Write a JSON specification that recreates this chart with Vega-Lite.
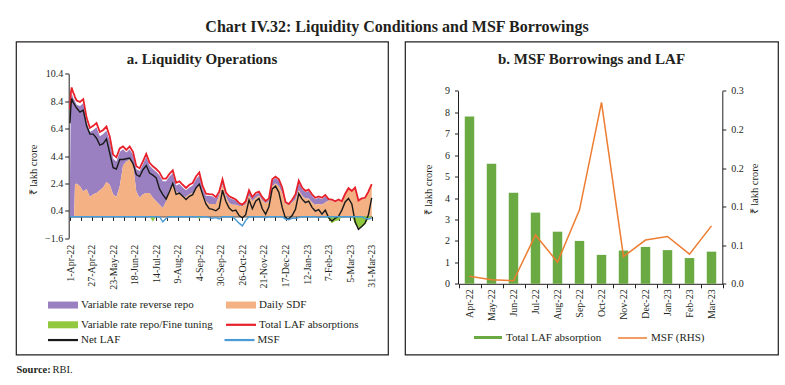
{
  "$schema": "https://vega.github.io/schema/vega-lite/v6.json",
  "background": "white",
  "padding": {"left": 15, "top": 18.5, "right": 5, "bottom": 0},
  "title": {"text": "Chart IV.32: Liquidity Conditions and MSF Borrowings", "fontSize": 16, "fontWeight": "bold", "anchor": "middle", "offset": 5.5, "color": "#231f20", "font": "Liberation Serif"},
  "config": {
    "font": "Liberation Serif",
    "axis": {"labelFont": "Liberation Serif", "titleFont": "Liberation Serif", "labelColor": "#231f20", "titleColor": "#231f20", "domainColor": "#231f20", "tickColor": "#231f20", "grid": false, "labelFontSize": 10, "titleFontSize": 10.5, "titleFontWeight": "normal"},
    "legend": {"labelFont": "Liberation Serif", "labelFontSize": 11, "labelColor": "#231f20", "padding": 0},
    "title": {"font": "Liberation Serif", "color": "#231f20"}
  },
  "spacing": 9,
  "vconcat": [
    {
      "spacing": 10,
      "resolve": {
        "scale": {"fill": "independent", "stroke": "independent", "color": "independent"},
        "legend": {"fill": "independent", "stroke": "independent", "color": "independent"}
      },
      "hconcat": [
        {
          "width": 372,
          "height": 313,
          "view": {"stroke": "#231f20", "strokeWidth": 1.2, "fill": "white"},
          "title": {"text": "a. Liquidity Operations", "fontSize": 15, "fontWeight": "bold", "offset": -25, "anchor": "middle", "frame": "group"},
          "data": {"values": [
            {"date":"2022-04-01","tot":7.8,"net":6.8,"sdf":0,"vrrr":2.9,"repo":0,"msf":-0.03},
            {"date":"2022-04-02","tot":9.0,"net":8.0,"sdf":0,"vrrr":8.4,"repo":0,"msf":-0.03},
            {"date":"2022-04-03","tot":9.4,"net":8.6,"sdf":0,"vrrr":9.0,"repo":0,"msf":-0.03},
            {"date":"2022-04-05","tot":9.0,"net":8.3,"sdf":0,"vrrr":8.6,"repo":0,"msf":-0.03},
            {"date":"2022-04-06","tot":8.9,"net":8.2,"sdf":0,"vrrr":8.55,"repo":0,"msf":-0.03},
            {"date":"2022-04-07","tot":8.7,"net":8.1,"sdf":2.3,"vrrr":6.1,"repo":0,"msf":-0.03},
            {"date":"2022-04-09","tot":8.45,"net":7.9,"sdf":2.4,"vrrr":5.75,"repo":0,"msf":-0.03},
            {"date":"2022-04-13","tot":8.35,"net":7.6,"sdf":2.2,"vrrr":5.85,"repo":0,"msf":-0.03},
            {"date":"2022-04-17","tot":8.55,"net":7.75,"sdf":1.8,"vrrr":6.45,"repo":0,"msf":-0.03},
            {"date":"2022-04-21","tot":7.2,"net":6.6,"sdf":2.0,"vrrr":4.9,"repo":0,"msf":-0.03},
            {"date":"2022-04-25","tot":6.45,"net":6.0,"sdf":1.4,"vrrr":4.75,"repo":0,"msf":-0.03},
            {"date":"2022-04-29","tot":6.6,"net":6.0,"sdf":1.6,"vrrr":4.7,"repo":0,"msf":-0.03},
            {"date":"2022-05-03","tot":6.8,"net":5.7,"sdf":1.7,"vrrr":4.8,"repo":0,"msf":-0.03},
            {"date":"2022-05-07","tot":6.15,"net":5.2,"sdf":1.9,"vrrr":3.95,"repo":0,"msf":-0.03},
            {"date":"2022-05-11","tot":6.3,"net":5.3,"sdf":2.1,"vrrr":3.9,"repo":0,"msf":-0.03},
            {"date":"2022-05-15","tot":6.55,"net":5.65,"sdf":2.5,"vrrr":3.75,"repo":0,"msf":-0.03},
            {"date":"2022-05-19","tot":5.8,"net":4.6,"sdf":2.3,"vrrr":3.2,"repo":0,"msf":-0.03},
            {"date":"2022-05-23","tot":4.5,"net":3.55,"sdf":1.6,"vrrr":2.6,"repo":0,"msf":-0.03},
            {"date":"2022-05-27","tot":4.3,"net":3.45,"sdf":1.4,"vrrr":2.6,"repo":0,"msf":-0.03},
            {"date":"2022-05-31","tot":4.95,"net":4.15,"sdf":2.2,"vrrr":2.5,"repo":0,"msf":-0.03},
            {"date":"2022-06-04","tot":5.1,"net":4.15,"sdf":3.7,"vrrr":1.2,"repo":0,"msf":-0.03},
            {"date":"2022-06-08","tot":4.85,"net":4.2,"sdf":4.0,"vrrr":0.65,"repo":0,"msf":-0.03},
            {"date":"2022-06-12","tot":5.1,"net":4.25,"sdf":4.15,"vrrr":0.75,"repo":0,"msf":-0.03},
            {"date":"2022-06-16","tot":4.7,"net":3.85,"sdf":3.8,"vrrr":0.7,"repo":0,"msf":-0.03},
            {"date":"2022-06-20","tot":3.65,"net":3.05,"sdf":1.8,"vrrr":1.65,"repo":0,"msf":-0.03},
            {"date":"2022-06-24","tot":3.5,"net":2.9,"sdf":1.35,"vrrr":1.95,"repo":0,"msf":-0.03},
            {"date":"2022-06-28","tot":4.0,"net":3.4,"sdf":1.6,"vrrr":2.2,"repo":0,"msf":-0.03},
            {"date":"2022-07-02","tot":4.55,"net":3.7,"sdf":1.7,"vrrr":2.65,"repo":0,"msf":-0.03},
            {"date":"2022-07-06","tot":3.9,"net":3.15,"sdf":1.7,"vrrr":2.0,"repo":0,"msf":-0.03},
            {"date":"2022-07-10","tot":3.65,"net":3.0,"sdf":1.35,"vrrr":2.1,"repo":-0.4,"msf":-0.03},
            {"date":"2022-07-14","tot":3.45,"net":2.8,"sdf":1.1,"vrrr":2.15,"repo":0,"msf":-0.03},
            {"date":"2022-07-18","tot":3.2,"net":2.0,"sdf":0.85,"vrrr":2.15,"repo":0,"msf":-0.03},
            {"date":"2022-07-22","tot":2.75,"net":1.58,"sdf":0.6,"vrrr":1.95,"repo":0,"msf":-0.4},
            {"date":"2022-07-26","tot":2.75,"net":1.25,"sdf":1.1,"vrrr":1.45,"repo":0,"msf":-0.15},
            {"date":"2022-07-30","tot":3.1,"net":1.8,"sdf":1.95,"vrrr":0.95,"repo":0,"msf":-0.03},
            {"date":"2022-08-03","tot":3.35,"net":2.4,"sdf":2.3,"vrrr":0.85,"repo":0,"msf":-0.03},
            {"date":"2022-08-07","tot":2.45,"net":1.6,"sdf":1.8,"vrrr":0.45,"repo":0,"msf":-0.03},
            {"date":"2022-08-11","tot":2.55,"net":1.7,"sdf":1.65,"vrrr":0.7,"repo":0,"msf":-0.03},
            {"date":"2022-08-15","tot":2.3,"net":1.46,"sdf":1.45,"vrrr":0.65,"repo":0,"msf":-0.03},
            {"date":"2022-08-19","tot":2.07,"net":1.22,"sdf":1.4,"vrrr":0.5,"repo":0,"msf":-0.03},
            {"date":"2022-08-23","tot":2.3,"net":1.46,"sdf":1.6,"vrrr":0.5,"repo":0,"msf":-0.03},
            {"date":"2022-08-27","tot":2.43,"net":1.58,"sdf":1.7,"vrrr":0.55,"repo":0,"msf":-0.03},
            {"date":"2022-08-31","tot":2.9,"net":2.07,"sdf":2.0,"vrrr":0.7,"repo":0,"msf":-0.03},
            {"date":"2022-09-04","tot":3.2,"net":2.35,"sdf":2.3,"vrrr":0.7,"repo":-0.2,"msf":-0.03},
            {"date":"2022-09-08","tot":2.2,"net":1.6,"sdf":1.6,"vrrr":0.4,"repo":0,"msf":-0.03},
            {"date":"2022-09-12","tot":1.65,"net":0.9,"sdf":1.1,"vrrr":0.4,"repo":0,"msf":-0.03},
            {"date":"2022-09-16","tot":1.62,"net":0.55,"sdf":0.9,"vrrr":0.6,"repo":0,"msf":-0.1},
            {"date":"2022-09-20","tot":1.6,"net":0.5,"sdf":0.9,"vrrr":0.55,"repo":0,"msf":-0.15},
            {"date":"2022-09-24","tot":1.4,"net":0.4,"sdf":0.9,"vrrr":0.4,"repo":0,"msf":-0.1},
            {"date":"2022-09-28","tot":1.8,"net":0.6,"sdf":1.5,"vrrr":0.15,"repo":0,"msf":-0.2},
            {"date":"2022-10-02","tot":2.7,"net":1.9,"sdf":2.3,"vrrr":0.25,"repo":0,"msf":-0.03},
            {"date":"2022-10-06","tot":1.75,"net":1.1,"sdf":1.45,"vrrr":0.15,"repo":0,"msf":-0.03},
            {"date":"2022-10-10","tot":1.46,"net":0.6,"sdf":0.97,"vrrr":0.38,"repo":0,"msf":-0.03},
            {"date":"2022-10-14","tot":1.34,"net":0.38,"sdf":0.85,"vrrr":0.4,"repo":0,"msf":-0.03},
            {"date":"2022-10-18","tot":1.22,"net":0.45,"sdf":0.85,"vrrr":0.3,"repo":0,"msf":-0.25},
            {"date":"2022-10-22","tot":0.97,"net":0.05,"sdf":0.75,"vrrr":0.15,"repo":0,"msf":-0.5},
            {"date":"2022-10-26","tot":0.85,"net":-0.12,"sdf":0.73,"vrrr":0.07,"repo":0,"msf":-0.7},
            {"date":"2022-10-30","tot":1.1,"net":0.12,"sdf":0.9,"vrrr":0.15,"repo":0,"msf":-0.3},
            {"date":"2022-11-03","tot":1.9,"net":1.2,"sdf":1.5,"vrrr":0.3,"repo":0,"msf":-0.03},
            {"date":"2022-11-07","tot":1.4,"net":0.55,"sdf":1.1,"vrrr":0.2,"repo":0,"msf":-0.03},
            {"date":"2022-11-11","tot":1.7,"net":1.1,"sdf":1.35,"vrrr":0.25,"repo":0,"msf":-0.03},
            {"date":"2022-11-15","tot":1.8,"net":1.3,"sdf":1.5,"vrrr":0.2,"repo":0,"msf":-0.03},
            {"date":"2022-11-19","tot":1.4,"net":0.55,"sdf":1.15,"vrrr":0.15,"repo":0,"msf":-0.03},
            {"date":"2022-11-23","tot":1.12,"net":0.15,"sdf":0.95,"vrrr":0.1,"repo":0,"msf":-0.1},
            {"date":"2022-11-27","tot":1.3,"net":0.7,"sdf":1.1,"vrrr":0.1,"repo":0,"msf":-0.03},
            {"date":"2022-12-01","tot":2.7,"net":2.0,"sdf":2.2,"vrrr":0.4,"repo":0,"msf":-0.03},
            {"date":"2022-12-05","tot":2.9,"net":2.2,"sdf":2.4,"vrrr":0.4,"repo":0,"msf":-0.03},
            {"date":"2022-12-09","tot":2.7,"net":1.75,"sdf":2.2,"vrrr":0.4,"repo":0,"msf":-0.03},
            {"date":"2022-12-13","tot":2.1,"net":0.65,"sdf":1.7,"vrrr":0.3,"repo":0,"msf":-0.03},
            {"date":"2022-12-17","tot":1.05,"net":-0.15,"sdf":0.9,"vrrr":0.1,"repo":0,"msf":-0.2},
            {"date":"2022-12-21","tot":0.9,"net":-0.2,"sdf":0.8,"vrrr":0.05,"repo":0,"msf":-0.25},
            {"date":"2022-12-25","tot":1.2,"net":0.05,"sdf":1.0,"vrrr":0.1,"repo":0,"msf":-0.15},
            {"date":"2022-12-29","tot":1.6,"net":0.5,"sdf":1.2,"vrrr":0.3,"repo":0,"msf":-0.15},
            {"date":"2023-01-02","tot":2.6,"net":1.65,"sdf":1.9,"vrrr":0.55,"repo":0,"msf":-0.1},
            {"date":"2023-01-06","tot":2.1,"net":1.25,"sdf":1.5,"vrrr":0.5,"repo":0,"msf":-0.03},
            {"date":"2023-01-10","tot":1.85,"net":1.0,"sdf":1.3,"vrrr":0.45,"repo":0,"msf":-0.03},
            {"date":"2023-01-14","tot":1.95,"net":1.1,"sdf":1.3,"vrrr":0.55,"repo":0,"msf":-0.03},
            {"date":"2023-01-18","tot":1.6,"net":0.65,"sdf":1.0,"vrrr":0.5,"repo":0,"msf":-0.03},
            {"date":"2023-01-22","tot":1.35,"net":0.38,"sdf":0.85,"vrrr":0.4,"repo":0,"msf":-0.03},
            {"date":"2023-01-26","tot":1.45,"net":0.48,"sdf":0.9,"vrrr":0.45,"repo":0,"msf":-0.1},
            {"date":"2023-01-30","tot":1.35,"net":0.15,"sdf":0.85,"vrrr":0.4,"repo":0,"msf":-0.03},
            {"date":"2023-02-03","tot":1.55,"net":0.45,"sdf":1.0,"vrrr":0.45,"repo":0,"msf":-0.03},
            {"date":"2023-02-07","tot":1.25,"net":-0.1,"sdf":1.15,"vrrr":0.05,"repo":-0.2,"msf":-0.03},
            {"date":"2023-02-11","tot":1.22,"net":-0.35,"sdf":1.15,"vrrr":0.05,"repo":-0.5,"msf":-0.03},
            {"date":"2023-02-15","tot":1.1,"net":-0.15,"sdf":1.0,"vrrr":0.05,"repo":-0.35,"msf":-0.03},
            {"date":"2023-02-19","tot":1.22,"net":0.0,"sdf":1.15,"vrrr":0.05,"repo":-0.3,"msf":-0.03},
            {"date":"2023-02-23","tot":1.1,"net":0.45,"sdf":1.05,"vrrr":0,"repo":-0.05,"msf":-0.03},
            {"date":"2023-02-27","tot":1.65,"net":1.05,"sdf":1.6,"vrrr":0,"repo":0,"msf":-0.03},
            {"date":"2023-03-03","tot":2.05,"net":1.3,"sdf":2.0,"vrrr":0,"repo":0,"msf":-0.03},
            {"date":"2023-03-07","tot":1.85,"net":0.9,"sdf":1.8,"vrrr":0,"repo":0,"msf":-0.03},
            {"date":"2023-03-11","tot":2.1,"net":-0.4,"sdf":2.0,"vrrr":0,"repo":-0.6,"msf":-0.03},
            {"date":"2023-03-15","tot":1.15,"net":-0.95,"sdf":1.1,"vrrr":0,"repo":-0.85,"msf":-0.03},
            {"date":"2023-03-19","tot":1.3,"net":-0.75,"sdf":1.25,"vrrr":0,"repo":-0.8,"msf":-0.03},
            {"date":"2023-03-23","tot":1.35,"net":-0.5,"sdf":1.3,"vrrr":0,"repo":-0.6,"msf":-0.15},
            {"date":"2023-03-27","tot":1.8,"net":0.1,"sdf":1.75,"vrrr":0,"repo":-0.2,"msf":-0.2},
            {"date":"2023-03-31","tot":2.35,"net":1.34,"sdf":2.3,"vrrr":0,"repo":0,"msf":-0.15}
          ]},
          "layer": [
            {
              "transform": [{"fold": ["vrrr", "sdf", "repo"], "as": ["series", "value"]}],
              "mark": {"type": "area", "opacity": 1, "interpolate": "linear"},
              "encoding": {
                "x": {
                  "field": "date", "type": "temporal", "timeUnit": "utcyearmonthdate",
                  "scale": {"domain": [{"year":2022,"month":4,"date":1,"utc":true}, {"year":2023,"month":3,"date":31,"utc":true}], "range": [54, 355.7]},
                  "axis": {
                    "orient": "bottom", "offset": -116.3, "title": null, "format": "%-d-%b-%y", "labelAngle": -90,
                    "ticks": false, "tickSize": 0, "domain": false, "labelPadding": 6, "labelOverlap": false, "labelFlush": false, "labelBound": false,
                    "values": [
                      {"year":2022,"month":4,"date":1,"utc":true},
                      {"year":2022,"month":4,"date":27,"utc":true},
                      {"year":2022,"month":5,"date":23,"utc":true},
                      {"year":2022,"month":6,"date":18,"utc":true},
                      {"year":2022,"month":7,"date":14,"utc":true},
                      {"year":2022,"month":8,"date":9,"utc":true},
                      {"year":2022,"month":9,"date":4,"utc":true},
                      {"year":2022,"month":9,"date":30,"utc":true},
                      {"year":2022,"month":10,"date":26,"utc":true},
                      {"year":2022,"month":11,"date":21,"utc":true},
                      {"year":2022,"month":12,"date":17,"utc":true},
                      {"year":2023,"month":1,"date":12,"utc":true},
                      {"year":2023,"month":2,"date":7,"utc":true},
                      {"year":2023,"month":3,"date":5,"utc":true},
                      {"year":2023,"month":3,"date":31,"utc":true}
                    ]
                  }
                },
                "y": {
                  "field": "value", "type": "quantitative", "stack": "zero", "title": "₹ lakh crore",
                  "scale": {"domain": [-1.6, 10.4], "range": [196.7, 32.3], "nice": false, "zero": false},
                  "axis": {"orient": "left", "offset": -52.7, "values": [-1.6, 0.4, 2.4, 4.4, 6.4, 8.4, 10.4], "format": ".1f", "tickSize": 4, "labelPadding": 2, "title": "₹ lakh crore", "titleX": -34.7, "titleY": 128, "titleAngle": -90, "titleAlign": "center", "titleBaseline": "middle"}
                },
                "fill": {
                  "field": "series", "type": "nominal",
                  "scale": {"domain": ["vrrr", "sdf", "repo"], "range": ["#9A80C0", "#F4B183", "#92C83E"]},
                  "legend": {"title": null, "orient": "none", "legendX": 41.5, "legendY": 257.8, "direction": "horizontal", "columns": 2, "columnPadding": 12, "rowPadding": 8, "gridAlign": "all", "symbolType": "M-3,-0.7H3V0.7H-3Z", "symbolSize": 100, "symbolOffset": 0, "labelOffset": 12.5, "symbolStrokeWidth": 0, "labelLimit": 300,
                    "labelExpr": "datum.value == 'vrrr' ? 'Variable rate reverse repo' : datum.value == 'sdf' ? 'Daily SDF' : 'Variable rate repo/Fine tuning'"}
                },
                "order": {"field": "series", "sort": "ascending"}
              }
            },
            {
              "mark": {"type": "line", "strokeWidth": 1.8, "interpolate": "linear"},
              "encoding": {
                "x": {
                  "field": "date", "type": "temporal", "timeUnit": "utcyearmonthdate",
                  "axis": {
                    "orient": "bottom", "offset": -138.1, "title": null, "labels": false, "ticks": true, "tickSize": 4, "domain": true, "grid": false,
                    "values": [
                      {"year":2022,"month":4,"date":1,"utc":true},
                      {"year":2022,"month":4,"date":14,"utc":true},
                      {"year":2022,"month":4,"date":27,"utc":true},
                      {"year":2022,"month":5,"date":10,"utc":true},
                      {"year":2022,"month":5,"date":23,"utc":true},
                      {"year":2022,"month":6,"date":5,"utc":true},
                      {"year":2022,"month":6,"date":18,"utc":true},
                      {"year":2022,"month":7,"date":1,"utc":true},
                      {"year":2022,"month":7,"date":14,"utc":true},
                      {"year":2022,"month":7,"date":27,"utc":true},
                      {"year":2022,"month":8,"date":9,"utc":true},
                      {"year":2022,"month":8,"date":22,"utc":true},
                      {"year":2022,"month":9,"date":4,"utc":true},
                      {"year":2022,"month":9,"date":17,"utc":true},
                      {"year":2022,"month":9,"date":30,"utc":true},
                      {"year":2022,"month":10,"date":13,"utc":true},
                      {"year":2022,"month":10,"date":26,"utc":true},
                      {"year":2022,"month":11,"date":8,"utc":true},
                      {"year":2022,"month":11,"date":21,"utc":true},
                      {"year":2022,"month":12,"date":4,"utc":true},
                      {"year":2022,"month":12,"date":17,"utc":true},
                      {"year":2022,"month":12,"date":30,"utc":true},
                      {"year":2023,"month":1,"date":12,"utc":true},
                      {"year":2023,"month":1,"date":25,"utc":true},
                      {"year":2023,"month":2,"date":7,"utc":true},
                      {"year":2023,"month":2,"date":20,"utc":true},
                      {"year":2023,"month":3,"date":5,"utc":true},
                      {"year":2023,"month":3,"date":18,"utc":true},
                      {"year":2023,"month":3,"date":31,"utc":true}
                    ]
                  }
                },
                "y": {"field": "tot", "type": "quantitative", "title": "₹ lakh crore"},
                "stroke": {
                  "datum": "Total LAF absorptions",
                  "scale": {"range": ["#E8202A"]},
                  "legend": {"title": null, "orient": "none", "legendX": 218.5, "legendY": 276.8, "symbolType": "M-3,0H3", "symbolSize": 100, "symbolOffset": 0, "labelOffset": 11.5, "symbolStrokeWidth": 2.2, "labelLimit": 300}
                }
              }
            },
            {
              "transform": [{"fold": ["net", "msf"], "as": ["series2", "value2"]}],
              "mark": {"type": "line", "strokeWidth": 1.4, "interpolate": "linear"},
              "encoding": {
                "x": {"field": "date", "type": "temporal", "timeUnit": "utcyearmonthdate", "axis": null},
                "y": {"field": "value2", "type": "quantitative", "title": "₹ lakh crore"},
                "color": {
                  "field": "series2", "type": "nominal",
                  "scale": {"domain": ["net", "msf"], "range": ["#1a1a1a", "#4A9BD6"]},
                  "legend": {"title": null, "orient": "none", "legendX": 40.5, "legendY": 291.8, "direction": "horizontal", "columns": 2, "columnPadding": 99.5, "gridAlign": "each", "symbolType": "M-3,0H3", "symbolSize": 100, "symbolOffset": 0, "labelOffset": 11.5, "symbolStrokeWidth": 2.2, "labelLimit": 300,
                    "labelExpr": "datum.value == 'net' ? 'Net LAF' : 'MSF'"}
                }
              }
            }
          ],
          "resolve": {"axis": {"x": "independent"}}
        },
        {
          "width": 373,
          "height": 313,
          "view": {"stroke": "#231f20", "strokeWidth": 1.2, "fill": "white"},
          "title": {"text": "b. MSF Borrowings and LAF", "fontSize": 15, "fontWeight": "bold", "offset": -25, "anchor": "middle", "frame": "group"},
          "data": {"values": [
            {"month": "Apr-22", "laf": 7.8, "msf": 0.0118},
            {"month": "May-22", "laf": 5.6, "msf": 0.0062},
            {"month": "Jun-22", "laf": 4.25, "msf": 0.0047},
            {"month": "Jul-22", "laf": 3.32, "msf": 0.076},
            {"month": "Aug-22", "laf": 2.43, "msf": 0.0336},
            {"month": "Sep-22", "laf": 2.0, "msf": 0.115},
            {"month": "Oct-22", "laf": 1.35, "msf": 0.282},
            {"month": "Nov-22", "laf": 1.55, "msf": 0.0424},
            {"month": "Dec-22", "laf": 1.72, "msf": 0.068},
            {"month": "Jan-23", "laf": 1.57, "msf": 0.0735},
            {"month": "Feb-23", "laf": 1.2, "msf": 0.046},
            {"month": "Mar-23", "laf": 1.5, "msf": 0.09}
          ]},
          "layer": [
            {
              "mark": {"type": "bar", "width": {"band": 0.43}},
              "encoding": {
                "x": {
                  "field": "month", "type": "nominal", "sort": null,
                  "scale": {"domain": ["Apr-22","May-22","Jun-22","Jul-22","Aug-22","Sep-22","Oct-22","Nov-22","Dec-22","Jan-23","Feb-23","Mar-23"], "range": [53.5, 317.5], "paddingInner": 0, "paddingOuter": 0},
                  "axis": {"orient": "bottom", "offset": -70.7, "title": null, "labelAngle": -90, "tickBand": "extent", "tickSize": 4, "labelPadding": 1}
                },
                "y": {
                  "field": "laf", "type": "quantitative",
                  "scale": {"domain": [0, 9], "range": [242.3, 49.3], "nice": false},
                  "axis": {"orient": "left", "offset": -53, "values": [0,1,2,3,4,5,6,7,8,9], "format": "d", "tickSize": 3.5, "labelPadding": 5, "title": "₹ lakh crore", "titleX": -30, "titleY": 148, "titleAngle": -90, "titleAlign": "center", "titleBaseline": "middle"}
                },
                "fill": {
                  "datum": "Total LAF absorption",
                  "scale": {"range": ["#6BAA43"]},
                  "legend": {"title": null, "orient": "none", "legendX": 77.5, "legendY": 290.5, "symbolType": "M-2.8,-0.3H2.8V0.3H-2.8Z", "symbolSize": 100, "symbolOffset": 0, "labelOffset": 12.5, "symbolStrokeWidth": 0, "labelLimit": 300}
                }
              }
            },
            {
              "mark": {"type": "line", "strokeWidth": 1.5, "interpolate": "linear"},
              "encoding": {
                "x": {"field": "month", "type": "nominal", "sort": null},
                "y": {
                  "field": "msf", "type": "quantitative",
                  "scale": {"domain": [0, 0.3], "range": [242.3, 49.3], "nice": false},
                  "axis": {"orient": "right", "offset": -55.7, "values": [0, 0.06, 0.12, 0.18, 0.24, 0.3], "format": ".1f", "tickSize": 3.5, "labelPadding": 5, "title": "₹ lakh crore", "titleX": 32.4, "titleY": 147, "titleAngle": -90, "titleAlign": "center", "titleBaseline": "middle"}
                },
                "stroke": {
                  "datum": "MSF (RHS)",
                  "scale": {"range": ["#ED7D31"]},
                  "legend": {"title": null, "orient": "none", "legendX": 221.5, "legendY": 290.5, "symbolType": "M-2.9,0H2.9", "symbolSize": 100, "symbolOffset": 0, "labelOffset": 12.5, "symbolStrokeWidth": 1.5, "labelLimit": 300}
                }
              }
            }
          ],
          "resolve": {"scale": {"y": "independent"}}
        }
      ]
    },
    {
      "width": 1,
      "height": 10,
      "view": {"stroke": null},
      "data": {"values": [{"a": "Source:", "b": "RBI."}]},
      "layer": [
        {"mark": {"type": "text", "align": "left", "baseline": "middle", "fontWeight": "bold", "fontSize": 10.5, "color": "#231f20"}, "encoding": {"text": {"field": "a"}}},
        {"mark": {"type": "text", "align": "left", "baseline": "middle", "fontSize": 10.5, "dx": 36, "color": "#231f20"}, "encoding": {"text": {"field": "b"}}}
      ]
    }
  ]
}
